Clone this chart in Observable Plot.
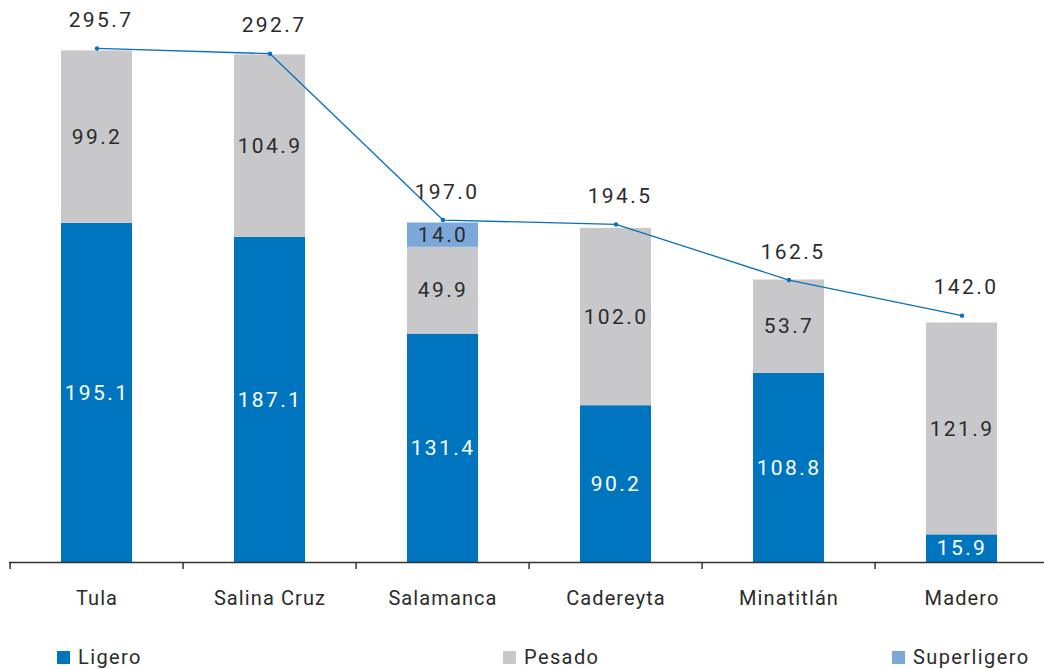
<!DOCTYPE html>
<html><head><meta charset="utf-8">
<script src="https://cdn.jsdelivr.net/npm/d3@7"></script>
<script src="https://cdn.jsdelivr.net/npm/@observablehq/plot@0.6"></script>
<style>
body{margin:0;background:#fff;font-family:Roboto,"Liberation Sans",sans-serif;}
#wrap{position:relative;width:1044px;height:669px;overflow:hidden;}
#chart svg g[aria-label="text"]{letter-spacing:2.4px;}
#chart svg g[aria-label="x-axis tick label"]{letter-spacing:1.1px;}
.lg{position:absolute;top:645px;height:24px;display:flex;align-items:center;font-size:20px;letter-spacing:1.4px;color:#2b2b2b;}
.lg i{display:inline-block;width:13px;height:13px;margin-right:8px;}
</style></head><body>
<div id="wrap"><div id="chart"></div><div id="legend"></div></div>
<script>
const categories = ["Tula","Salina Cruz","Salamanca","Cadereyta","Minatitlán","Madero"];
const ligero = [195.1,187.1,131.4,90.2,108.8,15.9];
const pesado = [99.2,104.9,49.9,102.0,53.7,121.9];
const superligero = [0,0,14.0,0,0,0];
const totals = [295.7,292.7,197.0,194.5,162.5,142.0];
const seriesNames = ["Ligero","Pesado","Superligero"];
const seriesColors = ["#0075bf","#c8c8ca","#7ca8d9"];
const legendX = [57,503,892];

const seriesValues = [ligero, pesado, superligero];
const rows = [];
categories.forEach((c,i)=>seriesNames.forEach((s,j)=>rows.push({cat:c, serie:s, v:seriesValues[j][i]})));
const totalRows = categories.map((c,i)=>({cat:c, v:totals[i]}));
const fmt = v => v.toFixed(1);
const xRange = [7.5,1050.5];
const band = (xRange[1]-xRange[0])/categories.length;
const lineColor = "#0a70ba";
const dark = "#2b2b2b";

const chart = Plot.plot({
  width:1044, height:630,
  marginLeft:9, marginRight:0, marginTop:40.5, marginBottom:68,
  x:{domain:categories, range:xRange, paddingInner:0.59, paddingOuter:0.295, align:0.5},
  y:{domain:[0,300], axis:null},
  color:{domain:seriesNames, range:seriesColors},
  style:{fontFamily:"Roboto, 'Liberation Sans', sans-serif", fontSize:"21px", color:dark, background:"#fff"},
  marks:[
    Plot.barY(rows, {x:"cat", y:"v", fill:"serie", order:seriesNames}),
    Plot.text(rows, Plot.stackY({x:"cat", y:"v", z:"serie", order:seriesNames,
      text:d=> d.serie==="Ligero" && d.v>0 ? fmt(d.v) : null, fill:"#fff"})),
    Plot.text(rows, Plot.stackY({x:"cat", y:"v", z:"serie", order:seriesNames,
      text:d=> d.serie!=="Ligero" && d.v>0 ? fmt(d.v) : null, fill:dark})),
    Plot.ruleY([0], {stroke:"#333", strokeWidth:1.5}),
    Plot.axisX({tickSize:7, dx:-band/2, tickFormat:()=>"", stroke:"#333", strokeWidth:1.5, label:null}),
    Plot.axisX({tickSize:0, tickPadding:28, label:null, fill:dark, fontSize:20}),
    Plot.line(totalRows, {x:"cat", y:"v", stroke:lineColor, strokeWidth:1.3}),
    Plot.dot(totalRows, {x:"cat", y:"v", r:2.2, fill:lineColor}),
    Plot.text(totalRows, {x:"cat", y:"v", text:d=>fmt(d.v), dy:-28, dx:4, fill:dark})
  ]
});
document.getElementById("chart").appendChild(chart);

const lg = document.getElementById("legend");
seriesNames.forEach((s,i)=>{
  const d = document.createElement("div");
  d.className = "lg";
  d.style.left = legendX[i]+"px";
  d.innerHTML = `<i style="background:${seriesColors[i]}"></i>${s}`;
  lg.appendChild(d);
});
</script>
</body></html>
